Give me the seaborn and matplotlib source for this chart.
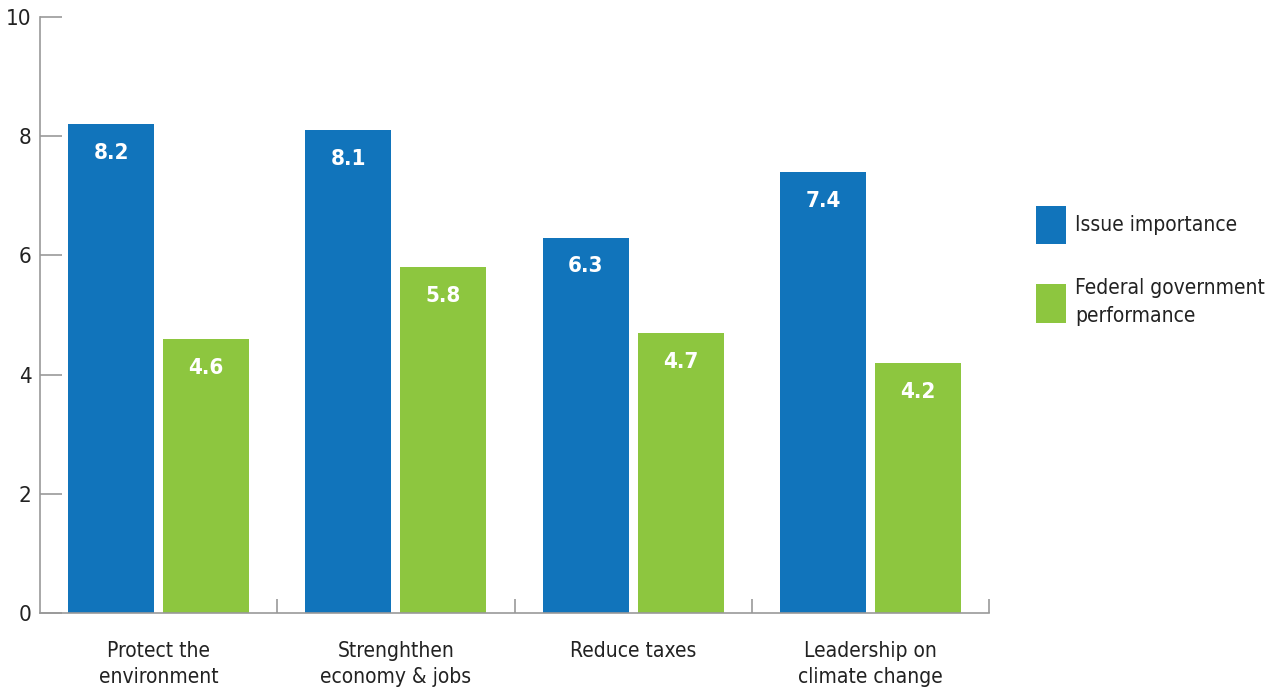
import pandas as pd
import numpy as np
import matplotlib
matplotlib.use("Agg")
import matplotlib.pyplot as plt
import seaborn as sns
from matplotlib.ticker import FixedLocator

categories = ["Protect the\nenvironment", "Strenghthen\neconomy & jobs", "Reduce taxes", "Leadership on\nclimate change"]
issue_importance = [8.2, 8.1, 6.3, 7.4]
federal_performance = [4.6, 5.8, 4.7, 4.2]
series_names = ["Issue importance", "Federal government\nperformance"]
colors = ["#1174BB", "#8DC63F"]

df = pd.DataFrame({
    "category": categories * 2,
    "value": issue_importance + federal_performance,
    "series": [series_names[0]] * 4 + [series_names[1]] * 4,
})

sns.set_style("white")
plt.rcParams["font.family"] = ["DejaVu Sans"]
plt.rcParams["font.stretch"] = "condensed"

fig = plt.figure(figsize=(12.78, 6.91), dpi=100)
ax = fig.add_axes([40 / 1278, 78 / 691, 949 / 1278, 596 / 691])

sns.barplot(data=df, x="category", y="value", hue="series", palette=colors,
            width=0.8, gap=0.093, saturation=1, linewidth=0, ax=ax, legend=True)

for cont in ax.containers:
    ax.bar_label(cont, fmt="%.1f", label_type="edge", padding=-28,
                 color="white", fontsize=16, fontweight="bold")

ax.set_xlim(-0.5, 3.5)
ax.set_ylim(0, 10)
ax.set_yticks([0, 2, 4, 6, 8, 10])
ax.set_xlabel("")
ax.set_ylabel("")
for s in ["top", "right"]:
    ax.spines[s].set_visible(False)
for s in ["left", "bottom"]:
    ax.spines[s].set_color("#999999")
    ax.spines[s].set_linewidth(1.2)
ax.tick_params(axis="y", direction="in", length=16, width=1.2, color="#999999",
               labelsize=16, labelcolor="#222222", pad=6, left=True)
ax.tick_params(axis="x", length=0, labelsize=15, labelcolor="#222222", pad=20)
ax.xaxis.set_minor_locator(FixedLocator([0.5, 1.5, 2.5, 3.5]))
ax.tick_params(axis="x", which="minor", direction="in", length=10, width=1.2,
               color="#999999", bottom=True)
for lbl in ax.get_xticklabels():
    lbl.set_linespacing(1.4)

leg = ax.legend_
leg.remove()
handles, labels = ax.get_legend_handles_labels()
leg = fig.legend(handles, labels, loc="upper left", bbox_to_anchor=(1017 / 1278, 1 - 187 / 691),
                 frameon=False, fontsize=15, handlelength=1.45, handleheight=2.45,
                 labelspacing=1.65, handletextpad=0.45, labelcolor="#222222")
for t in leg.get_texts():
    t.set_linespacing(1.45)

fig.savefig("out.png", dpi=100)
